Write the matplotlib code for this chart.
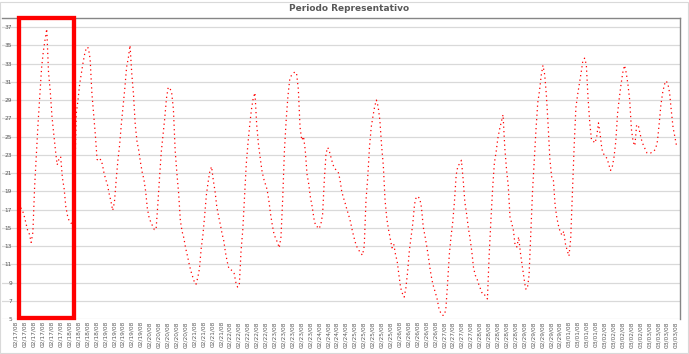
import numpy as np
import pandas as pd
import matplotlib
matplotlib.use('Agg')
import matplotlib.pyplot as plt
import matplotlib.transforms as mtransforms
from matplotlib.patches import Rectangle

# temperatura horaria, un arreglo por día (02/17/08 - 03/03/08)
temp_0217 = [17.2, 16.9, 16.3, 15.5, 14.7, 14.3, 13.4, 14.5, 19.5, 23.0, 26.5, 29.5,
             32.5, 34.3, 35.6, 36.8, 32.1, 30.0, 27.2, 25.3, 23.5, 21.9, 22.5, 22.8]
temp_0218 = [20.5, 19.3, 17.3, 16.3, 15.7, 15.5, 15.5, 19.0, 27.5, 29.0, 30.8, 32.0,
             33.2, 34.2, 34.8, 34.7, 33.5, 29.8, 27.5, 25.2, 22.5, 22.3, 22.5, 22.0]
temp_0219 = [21.0, 20.3, 19.7, 18.7, 17.9, 16.9, 17.8, 20.2, 22.4, 24.1, 26.4, 28.4,
             30.3, 32.6, 33.6, 35.0, 31.9, 29.6, 26.3, 24.5, 23.5, 22.2, 21.1, 20.3]
temp_0220 = [19.0, 17.1, 16.1, 15.6, 15.2, 14.8, 14.8, 17.5, 20.5, 23.3, 25.2, 27.0,
             29.2, 30.4, 30.3, 29.8, 28.0, 23.5, 21.0, 18.8, 15.8, 14.6, 13.9, 12.8]
temp_0221 = [12.0, 11.1, 10.3, 9.7, 9.1, 8.8, 9.5, 10.5, 12.7, 14.2, 16.3, 18.6,
             20.0, 21.2, 21.7, 20.2, 19.0, 17.3, 16.3, 15.4, 14.4, 13.6, 12.3, 11.3]
temp_0222 = [10.5, 10.4, 10.3, 10.0, 9.0, 8.5, 8.8, 12.5, 14.8, 18.3, 22.0, 24.3,
             26.3, 28.0, 29.2, 29.8, 26.3, 24.2, 22.7, 21.3, 20.4, 19.8, 19.2, 18.0]
temp_0223 = [16.5, 15.3, 14.3, 13.8, 13.4, 12.8, 14.0, 18.2, 23.5, 26.8, 29.4, 31.2,
             31.7, 31.9, 32.1, 31.9, 30.2, 26.0, 24.6, 25.0, 23.5, 20.9, 19.8, 18.3]
temp_0224 = [17.3, 16.0, 15.2, 15.1, 14.9, 15.4, 16.5, 20.3, 23.2, 23.8, 23.3, 22.6,
             21.9, 21.5, 21.3, 21.1, 20.3, 19.0, 18.3, 17.7, 17.0, 16.4, 15.7, 14.8]
temp_0225 = [14.0, 13.3, 12.8, 12.5, 12.2, 12.0, 13.0, 18.0, 20.5, 23.8, 26.0, 27.2,
             28.3, 29.0, 28.3, 26.8, 24.0, 21.8, 18.0, 16.0, 14.8, 13.8, 12.8, 13.2]
temp_0226 = [12.1, 11.3, 9.8, 8.4, 7.8, 7.4, 8.4, 10.2, 12.5, 14.0, 15.5, 17.6,
             18.4, 18.4, 18.2, 17.2, 15.1, 14.1, 13.0, 11.8, 10.4, 9.3, 8.5, 7.9]
temp_0227 = [7.2, 6.2, 5.7, 5.4, 5.4, 6.0, 8.8, 12.0, 14.0, 15.6, 17.9, 20.8,
             21.8, 22.0, 22.4, 20.3, 17.8, 16.5, 15.0, 13.8, 12.4, 10.6, 9.8, 9.4]
temp_0228 = [8.8, 8.3, 7.8, 7.8, 7.4, 7.2, 12.0, 15.8, 19.3, 22.1, 23.3, 24.8,
             25.8, 26.6, 27.4, 23.8, 21.4, 19.6, 16.2, 15.5, 14.7, 13.0, 12.9, 14.0]
temp_0229 = [12.3, 10.9, 9.6, 8.3, 8.3, 9.8, 14.5, 19.0, 22.5, 25.8, 28.7, 30.0,
             31.7, 32.8, 31.8, 29.5, 26.2, 22.5, 20.6, 20.3, 17.5, 16.1, 15.2, 14.5]
temp_0301 = [14.2, 14.6, 13.2, 12.5, 11.9, 13.8, 19.0, 24.0, 28.2, 29.6, 30.8, 32.0,
             33.3, 33.6, 32.9, 29.2, 26.5, 24.6, 24.5, 24.3, 25.0, 26.5, 25.2, 23.6]
temp_0302 = [23.1, 22.8, 22.6, 21.9, 21.3, 21.7, 22.8, 24.5, 27.5, 29.2, 30.7, 32.0,
             32.8, 32.0, 30.7, 29.0, 25.8, 24.4, 24.0, 26.3, 26.2, 25.3, 24.5, 24.0]
temp_0303 = [23.6, 23.2, 23.2, 23.2, 23.3, 23.4, 23.7, 24.5, 26.4, 28.5, 29.8, 30.7,
             31.1, 30.8, 29.8, 27.8, 26.0, 25.0, 24.0]

start = pd.Timestamp('2008-02-17')
y_ticks = list(range(5, 38, 2))
highlight_hours = (-0.9, 30.5)   # periodo marcado en rojo

temps = np.array(temp_0217 + temp_0218 + temp_0219 + temp_0220 + temp_0221 + temp_0222 +
                 temp_0223 + temp_0224 + temp_0225 + temp_0226 + temp_0227 + temp_0228 +
                 temp_0229 + temp_0301 + temp_0302 + temp_0303)
hours = np.arange(len(temps))

fig = plt.figure(figsize=(6.89, 3.54), dpi=100)
ax = fig.add_axes([2 / 689, 1 - 319 / 354, 678 / 689, 301 / 354])

ax.plot(hours, temps, color='red', lw=0.9, linestyle=(0, (1.0, 2.6)))

ax.set_xlim(-10.8, 380)
ax.set_ylim(5, 38)
ax.set_yticks(y_ticks)
ax.yaxis.grid(True, color='#d9d9d9', lw=0.9)
ax.set_axisbelow(True)
for s in ['left', 'bottom']:
    ax.spines[s].set_visible(False)
for s in ['top', 'right']:
    ax.spines[s].set_color('#868686')
    ax.spines[s].set_linewidth(1.0)
ax.tick_params(axis='y', length=0, pad=-7.2, labelsize=4.2, labelcolor='#595959')

tick_hours = np.linspace(-2.7, 377.7, 75)
tick_labels = (start + pd.to_timedelta(np.clip(tick_hours, 0, None), unit='h')).strftime('%m/%d/%y')
ax.set_xticks(tick_hours)
ax.set_xticklabels(tick_labels, rotation=90, fontsize=4.2, color='#595959')
ax.tick_params(axis='x', length=0, pad=1.5)

# recuadro rojo
trans = mtransforms.blended_transform_factory(ax.transData, ax.transAxes)
ax.add_patch(Rectangle((highlight_hours[0], 0.003), highlight_hours[1] - highlight_hours[0], 0.998,
                       transform=trans, fill=False, ec='red', lw=3.1, clip_on=False, zorder=5))

fig.text(349.5 / 689, 1 - 8.5 / 354, "Periodo Representativo", ha='center', va='center',
         fontsize=6.5, fontweight='bold', color='#595959')

fig.add_artist(Rectangle((0.0007, 0.0037), 0.9978, 0.9915, transform=fig.transFigure,
                         fill=False, ec='#d9d9d9', lw=0.8))

fig.savefig('out.png', dpi=100)
